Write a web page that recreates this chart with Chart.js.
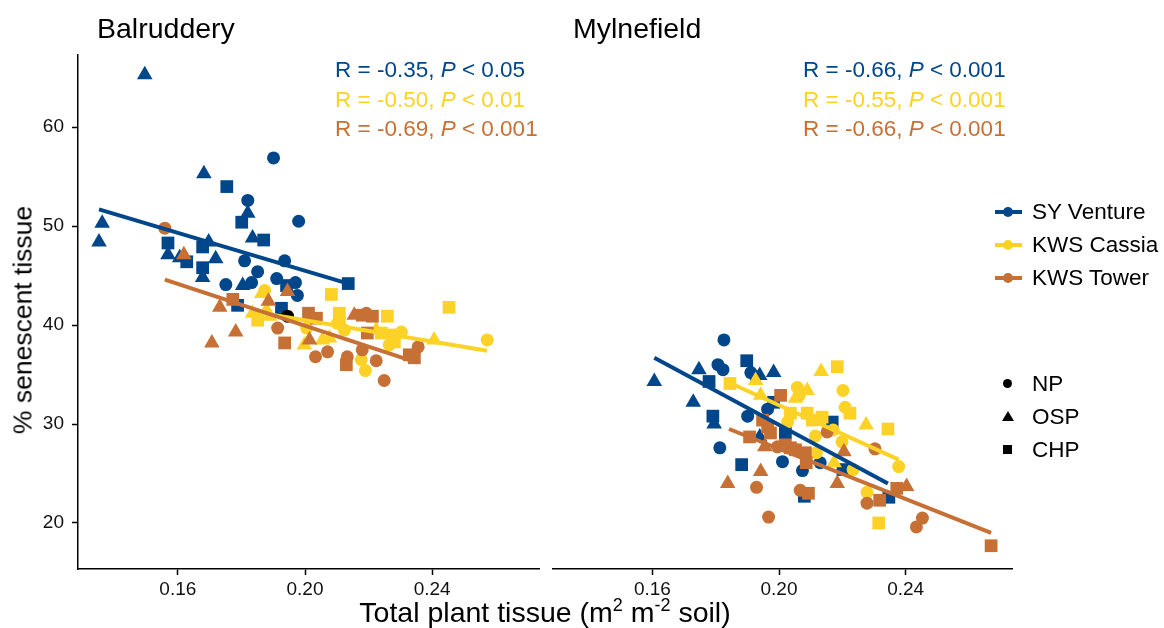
<!DOCTYPE html>
<html>
<head>
<meta charset="utf-8">
<script src="https://cdn.jsdelivr.net/npm/chart.js@4.4.1/dist/chart.umd.min.js"></script>
<style>
  body { margin: 0; background: #fff; font-family: "Liberation Sans", Arial, sans-serif; }
  #wrap { position: relative; width: 1164px; height: 628px; overflow: hidden; }
  canvas { position: absolute; top: 0; }
  .txt { position: absolute; white-space: nowrap; color: #000; }
  .panelTitle { font-size: 28.5px; line-height: 28.5px; }
  .stats { position: absolute; font-size: 22.5px; line-height: 29.5px; white-space: nowrap; }
  .leg { position: absolute; left: 995px; font-size: 22.5px; white-space: nowrap; }
  .legRow { position: relative; height: 33px; line-height: 33px; }
  .legLine { position: absolute; left: 0; top: 15px; width: 27px; height: 4px; }
  .legDot { position: absolute; left: 8px; top: 12px; width: 10px; height: 10px; border-radius: 50%; }
  .legLabel { position: absolute; left: 37px; top: 0; }
  .shpRow { position: relative; height: 33px; line-height: 33px; }
  .shp { position: absolute; }
</style>
</head>
<body>
<div id="wrap">
  <canvas id="balChart" width="548" height="628" style="left:0"></canvas>
  <canvas id="mylChart" width="477" height="628" style="left:544px"></canvas>

  <div class="txt panelTitle" style="left:97px; top:14px">Balruddery</div>
  <div class="txt panelTitle" style="left:573px; top:14px">Mylnefield</div>

  <div class="stats" id="balStats" style="left:335px; top:55px"></div>
  <div class="stats" id="mylStats" style="left:803px; top:55px"></div>

  <div class="leg" id="cultLegend" style="top:194.5px"></div>
  <div class="leg" id="shapeLegend" style="top:367px"></div>

  <div class="txt" style="left:23px; top:320px; font-size:26.5px; transform: translate(-50%,-50%) rotate(-90deg);">% senescent tissue</div>
  <div class="txt" style="left:545px; top:612px; font-size:28.5px; transform: translate(-50%,-50%);">Total plant tissue (m<sup style="font-size:18px">2</sup> m<sup style="font-size:18px">-2</sup> soil)</div>
</div>

<script>
const cultivars = ['SY Venture', 'KWS Cassia', 'KWS Tower'];
const cultColors = ['#00468b', '#fdd226', '#c77035'];
const treatments = ['NP', 'OSP', 'CHP'];
const xTicks = [0.16, 0.20, 0.24];
const yTicks = [20, 30, 40, 50, 60];

// Balruddery
const balSyNP = [[0.1901,56.9],[0.1820,52.6],[0.1980,50.5],[0.1810,46.5],[0.1936,46.5],[0.1851,45.4],
  [0.1751,44.1],[0.1832,44.3],[0.1911,44.7],[0.1970,44.3],[0.1976,43.0]];
const balSyOSP = [[0.1496,65.3],[0.1682,55.3],[0.1820,51.3],[0.1362,50.3],[0.1352,48.4],[0.1835,48.8],
  [0.1697,48.4],[0.1569,47.1],[0.1606,46.8],[0.1719,46.7],[0.1678,44.8],[0.1804,44.0]];
const balSyCHP = [[0.1754,54.0],[0.1801,50.4],[0.1870,48.6],[0.1569,48.3],[0.1678,47.9],[0.1628,46.4],
  [0.1678,45.8],[0.1942,44.0],[0.2136,44.2],[0.1788,42.0],[0.1926,41.7]];

const balCaNP = [[0.1873,43.5],[0.2005,39.7],[0.2102,40.2],[0.2303,39.3],[0.2573,38.5],[0.2177,36.5],
  [0.2190,35.4],[0.2265,38.0],[0.2124,39.5]];
const balCaOSP = [[0.1864,43.2],[0.1835,41.2],[0.1879,41.5],[0.1889,40.9],[0.1998,38.0],[0.2055,38.5],
  [0.2077,38.7],[0.2224,39.5],[0.2406,38.5]];
const balCaCHP = [[0.1851,40.5],[0.2083,43.1],[0.2108,41.2],[0.2108,40.3],[0.2259,40.9],[0.2453,41.8],
  [0.2240,39.2],[0.2275,39.0],[0.2281,38.3]];

const balToNP = [[0.1559,49.8],[0.1914,39.7],[0.2033,36.8],[0.2071,37.3],[0.2133,36.8],[0.2180,37.5],
  [0.2193,41.2],[0.2224,36.4],[0.2249,34.4],[0.2356,37.8]];
const balToOSP = [[0.1619,47.1],[0.1945,43.4],[0.1885,42.4],[0.1732,41.8],[0.1782,39.3],[0.1707,38.2],
  [0.2014,38.5],[0.2155,41.0]];
const balToCHP = [[0.1773,42.6],[0.1936,38.2],[0.2011,41.2],[0.2036,40.7],[0.2180,41.0],[0.2212,40.9],
  [0.2196,39.2],[0.2130,36.0],[0.2328,37.0],[0.2344,36.7]];

const balOther = [[0.1945,40.9]];

const balFitSy = [[0.1352,51.7],[0.2136,44.2]];
const balFitCa = [[0.1830,41.4],[0.2573,37.4]];
const balFitTo = [[0.1559,44.6],[0.2353,36.2]];

const balR = ['-0.35', '-0.50', '-0.69'];
const balP = ['0.05', '0.01', '0.001'];

// Mylnefield
const mylSyNP = [[0.1826,38.5],[0.1807,36.0],[0.1823,35.5],[0.1911,35.2],[0.1926,34.8],[0.1901,30.8],
  [0.1964,31.5],[0.1813,27.6],[0.2011,26.2],[0.2074,25.3],[0.2130,26.1]];
const mylSyOSP = [[0.1606,34.3],[0.1747,35.5],[0.1729,32.2],[0.1795,30.0],[0.1939,34.9],[0.1983,35.2],
  [0.1939,28.7]];
const mylSyCHP = [[0.1779,34.3],[0.1898,36.4],[0.1791,30.8],[0.1983,32.2],[0.2020,29.1],[0.2168,30.2],
  [0.1882,25.9],[0.2080,22.7],[0.2202,25.4],[0.2347,22.6]];

const mylCaNP = [[0.2058,33.7],[0.2064,32.9],[0.2202,33.4],[0.2209,31.7],[0.2115,28.8],[0.2199,28.2],
  [0.2118,27.1],[0.2234,25.4],[0.2378,25.7],[0.2278,23.1],[0.2027,30.2],[0.2171,29.4]];
const mylCaOSP = [[0.1926,34.4],[0.1942,32.9],[0.2133,35.3],[0.2089,33.4],[0.2052,32.6],[0.2275,29.9],
  [0.2174,26.1]];
const mylCaCHP = [[0.1845,34.1],[0.2184,35.8],[0.2224,31.1],[0.2036,31.1],[0.2089,31.1],[0.2136,30.7],
  [0.2105,30.4],[0.2344,29.5],[0.2315,20.0]];

const mylToNP = [[0.2152,29.2],[0.2303,27.5],[0.1929,23.6],[0.1967,20.6],[0.2067,23.3],[0.2278,22.0],
  [0.2453,20.5],[0.2434,19.6],[0.1995,27.7]];
const mylToOSP = [[0.1955,27.7],[0.1942,25.2],[0.1838,24.0],[0.2205,27.2],[0.2184,24.0],[0.2403,23.7]];
const mylToCHP = [[0.2005,32.9],[0.1948,30.4],[0.1964,29.7],[0.1973,29.1],[0.1907,28.7],[0.2020,27.9],
  [0.2036,27.6],[0.2052,27.4],[0.2083,27.1],[0.2086,26.1],[0.2093,23.0],[0.2318,22.3],[0.2372,23.5],
  [0.2670,17.7]];

const mylFitSy = [[0.1606,36.7],[0.2344,24.0]];
const mylFitCa = [[0.1842,34.2],[0.2378,26.4]];
const mylFitTo = [[0.1842,29.5],[0.2670,19.0]];

const mylR = ['-0.66', '-0.55', '-0.66'];
const mylP = ['0.001', '0.001', '0.001'];

const xMin = 0.1286, xMax = 0.2736;
const yMin = 15.35, yMax = 67.3;

const fontFam = '"Liberation Sans", Arial, sans-serif';
const pointStyles = { NP: ['circle', 6.5], OSP: ['triangle', 9], CHP: ['rect', 9] };

function toXY(arr) {
  return arr.map(p => ({ x: p[0], y: p[1] }));
}

function puntos(arr, cor, trat, ordem) {
  return {
    data: toXY(arr),
    pointStyle: pointStyles[trat][0],
    pointRadius: pointStyles[trat][1],
    pointHoverRadius: pointStyles[trat][1],
    backgroundColor: cor,
    borderWidth: 0,
    order: ordem
  };
}

function linha(arr, cor) {
  return {
    data: toXY(arr),
    showLine: true,
    pointRadius: 0,
    borderColor: cor,
    borderWidth: 4,
    fill: false,
    order: 0
  };
}

function criarPainel(canvasId, grupos, fits, outros, comEixoY, padding) {
  const datasets = [];
  // lines on top: orange, yellow, blue
  datasets.push(linha(fits[2], cultColors[2]));
  datasets.push(linha(fits[1], cultColors[1]));
  datasets.push(linha(fits[0], cultColors[0]));
  // points: orange on top of yellow on top of blue
  grupos.forEach((g, ci) => {
    g.forEach((arr, ti) => {
      datasets.push(puntos(arr, cultColors[ci], treatments[ti], 3 - ci + 1));
    });
  });
  if (outros) datasets.push(puntos(outros, '#000', 'NP', 2.5));

  return new Chart(document.getElementById(canvasId), {
    type: 'scatter',
    data: { datasets: datasets },
    options: {
      responsive: false,
      animation: false,
      layout: { padding: padding },
      scales: {
        x: {
          type: 'linear',
          min: xMin,
          max: xMax,
          afterBuildTicks: s => { s.ticks = xTicks.map(v => ({ value: v })); },
          afterFit: s => { s.height = 59; },
          ticks: {
            callback: v => v.toFixed(2),
            font: { size: 19, family: fontFam },
            color: '#111',
            padding: 3
          },
          grid: { drawOnChartArea: false, drawTicks: true, tickLength: 6, tickColor: '#000', tickWidth: 1.5 },
          border: { display: true, color: '#000', width: 1.5 }
        },
        y: {
          type: 'linear',
          display: comEixoY,
          min: yMin,
          max: yMax,
          afterBuildTicks: s => { s.ticks = yTicks.map(v => ({ value: v })); },
          afterFit: s => { s.width = comEixoY ? 78 : 0; },
          ticks: {
            font: { size: 19, family: fontFam },
            color: '#111',
            padding: 8
          },
          grid: { drawOnChartArea: false, drawTicks: true, tickLength: 6, tickColor: '#000', tickWidth: 1.5 },
          border: { display: true, color: '#000', width: 1.5 }
        }
      },
      plugins: {
        legend: { display: false },
        tooltip: { enabled: false }
      }
    }
  });
}

criarPainel('balChart',
  [[balSyNP, balSyOSP, balSyCHP], [balCaNP, balCaOSP, balCaCHP], [balToNP, balToOSP, balToCHP]],
  [balFitSy, balFitCa, balFitTo], balOther, true,
  { top: 55, right: 7, left: 0, bottom: 0 });

criarPainel('mylChart',
  [[mylSyNP, mylSyOSP, mylSyCHP], [mylCaNP, mylCaOSP, mylCaCHP], [mylToNP, mylToOSP, mylToCHP]],
  [mylFitSy, mylFitCa, mylFitTo], null, false,
  { top: 55, right: 0, left: 0, bottom: 0 });

function escreverStats(id, rs, ps) {
  const el = document.getElementById(id);
  rs.forEach((r, i) => {
    const d = document.createElement('div');
    d.style.color = cultColors[i];
    d.innerHTML = 'R = ' + r + ', <i>P</i> &lt; ' + ps[i];
    el.appendChild(d);
  });
}
escreverStats('balStats', balR, balP);
escreverStats('mylStats', mylR, mylP);

const cultLegend = document.getElementById('cultLegend');
cultivars.forEach((c, i) => {
  const row = document.createElement('div');
  row.className = 'legRow';
  row.innerHTML = '<div class="legLine" style="background:' + cultColors[i] + '"></div>' +
    '<div class="legDot" style="background:' + cultColors[i] + '"></div>' +
    '<div class="legLabel">' + c + '</div>';
  cultLegend.appendChild(row);
});

const shapeLegend = document.getElementById('shapeLegend');
const shapeCss = {
  NP: 'left:8px; top:12px; width:9px; height:9px; border-radius:50%; background:#000;',
  OSP: 'left:7px; top:11px; width:0; height:0; border-left:6px solid transparent; border-right:6px solid transparent; border-bottom:10px solid #000;',
  CHP: 'left:8px; top:12px; width:9px; height:9px; background:#000;'
};
treatments.forEach(t => {
  const row = document.createElement('div');
  row.className = 'shpRow';
  row.innerHTML = '<div class="shp" style="' + shapeCss[t] + '"></div>' +
    '<div class="legLabel">' + t + '</div>';
  shapeLegend.appendChild(row);
});
</script>
</body>
</html>
